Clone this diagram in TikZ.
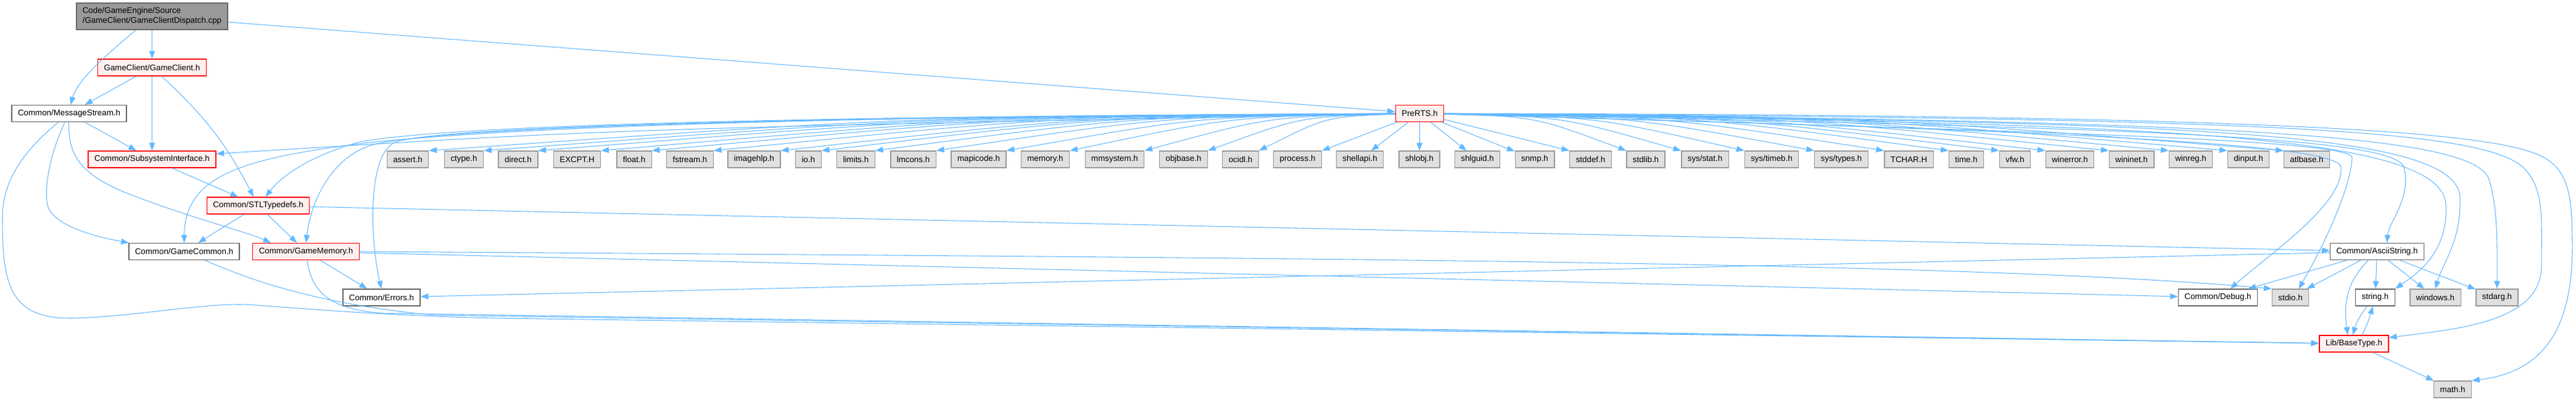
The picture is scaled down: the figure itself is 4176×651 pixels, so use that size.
\documentclass[tikz,border=0pt]{standalone}
\usepackage{fontspec}
\setmainfont{Liberation Sans}
\usetikzlibrary{arrows.meta}

\definecolor{incblue}{HTML}{63B8FF}
\definecolor{cppfill}{HTML}{999999}
\definecolor{cppdraw}{HTML}{666666}
\definecolor{projfill}{HTML}{FFF0F0}
\definecolor{sysfill}{HTML}{E0E0E0}
\definecolor{sysdraw}{HTML}{999999}

\begin{document}
\begin{tikzpicture}[->,>={Triangle[length=9.5pt,width=7pt]},x=0.75pt,y=0.75pt,
        file/.style={rectangle,minimum height=20.25pt,inner xsep=7.5pt,inner ysep=0pt,
                     line width=1pt,font=\fontsize{10}{12}\selectfont},
        top/.style={file,draw=cppdraw,fill=cppfill,align=left,minimum height=32.25pt},
        proj/.style={file,draw=red,fill=projfill},
        local/.style={file,draw=cppdraw,fill=white},
        sys/.style={file,draw=sysdraw,fill=sysfill},
        dep/.style={draw=incblue,line width=0.8pt},
        every edge/.style={dep}]

  \useasboundingbox (0,0) rectangle (4176,651);

  \node[top] (main) at (246.5,624.5) {Code/GameEngine/Source\\/GameClient/GameClientDispatch.cpp};
  \node[proj] (gc) at (246.5,541.5) {GameClient/GameClient.h};
  \node[local] (ms) at (112,467) {Common/MessageStream.h};
  \node[proj] (pre) at (2301.5,467) {PreRTS.h};
  \node[proj] (si) at (246.5,392.5) {Common/SubsystemInterface.h};

  \node[sys] (assert) at (661,392.5) {assert.h};
  \node[sys] (ctype) at (752,392.5) {ctype.h};
  \node[sys] (direct) at (840,392.5) {direct.h};
  \node[sys] (excpt) at (935.5,392.5) {EXCPT.H};
  \node[sys] (float) at (1028,392.5) {float.h};
  \node[sys] (fstream) at (1118.5,392.5) {fstream.h};
  \node[sys] (imagehlp) at (1222.5,392.5) {imagehlp.h};
  \node[sys] (io) at (1310.5,392.5) {io.h};
  \node[sys] (limits) at (1387.5,392.5) {limits.h};
  \node[sys] (lmcons) at (1480.5,392.5) {lmcons.h};
  \node[sys] (mapicode) at (1586.5,392.5) {mapicode.h};
  \node[sys] (memory) at (1694.5,392.5) {memory.h};
  \node[sys] (mmsystem) at (1807,392.5) {mmsystem.h};
  \node[sys] (objbase) at (1918.5,392.5) {objbase.h};
  \node[sys] (ocidl) at (2011,392.5) {ocidl.h};
  \node[sys] (process) at (2103.5,392.5) {process.h};
  \node[sys] (shellapi) at (2204.5,392.5) {shellapi.h};
  \node[sys] (shlobj) at (2301,392.5) {shlobj.h};
  \node[sys] (shlguid) at (2395,392.5) {shlguid.h};
  \node[sys] (snmp) at (2488,392.5) {snmp.h};
  \node[sys] (stddef) at (2578.5,392.5) {stddef.h};
  \node[sys] (stdlib) at (2668,392.5) {stdlib.h};
  \node[sys] (sysstat) at (2764,392.5) {sys/stat.h};
  \node[sys] (systimeb) at (2872,392.5) {sys/timeb.h};
  \node[sys] (systypes) at (2985,392.5) {sys/types.h};
  \node[sys] (tchar) at (3094.5,392.5) {TCHAR.H};
  \node[sys] (time) at (3187.5,392.5) {time.h};
  \node[sys] (vfw) at (3266.5,392.5) {vfw.h};
  \node[sys] (winerror) at (3355.5,392.5) {winerror.h};
  \node[sys] (wininet) at (3455.5,392.5) {wininet.h};
  \node[sys] (winreg) at (3551.5,392.5) {winreg.h};
  \node[sys] (dinput) at (3645,392.5) {dinput.h};
  \node[sys] (atlbase) at (3739.5,392.5) {atlbase.h};

  \node[proj] (stl) at (418.5,317.5) {Common/STLTypedefs.h};
  \node[local] (gcom) at (298.5,243) {Common/GameCommon.h};
  \node[proj] (gmem) at (496,243) {Common/GameMemory.h};
  \node[local] (ascii) at (3853.5,243) {Common/AsciiString.h};
  \node[local] (errors) at (618.5,168.5) {Common/Errors.h};
  \node[local] (debug) at (3595.5,168.5) {Common/Debug.h};
  \node[sys] (stdio) at (3713,168.5) {stdio.h};
  \node[local] (string) at (3850.5,168.5) {string.h};
  \node[sys] (windows) at (3948,168.5) {windows.h};
  \node[sys] (stdarg) at (4048,168.5) {stdarg.h};
  \node[proj] (base) at (3816,93.5) {Lib/BaseType.h};
  \node[sys] (math) at (3976,19.5) {math.h};

  % straight includes
  \path (main) edge (gc)
        (main) edge (pre)
        (gc) edge (ms)
        (gc) edge (si)
        (gc) edge [bend left=10] (stl)
        (ms) edge (si)
        (si) edge (stl)
        (stl) edge (gcom)
        (stl) edge (gmem)
        (stl) edge (ascii)
        (gmem) edge (errors)
        (gmem) edge (debug)
        (ascii) edge (errors)
        (ascii) edge (debug)
        (ascii) edge (stdio)
        (ascii) edge (string)
        (ascii) edge (windows)
        (ascii) edge (stdarg)
        (base) edge (math)
        ([xshift=-10pt]string.south) edge [bend right=10] ([xshift=-1.5pt]base.north)
        ([xshift=10pt]base.north) edge [bend right=5] ([xshift=-3pt]string.south);

  % PreRTS.h fan
  \path (pre) edge (process.north east)
        (pre) edge (shellapi)
        (pre) edge (shlobj)
        (pre) edge (shlguid)
        (pre) edge (snmp)
        (pre) edge (stddef.north west);
  \draw[dep] (pre) .. controls (1000,442) .. (si.5);
  \draw[dep] (pre) .. controls (1478,462) .. (assert.north east);
  \draw[dep] (pre) .. controls (1523,462) .. (ctype.north east);
  \draw[dep] (pre) .. controls (1567,462) .. (direct.north east);
  \draw[dep] (pre) .. controls (1618,462) .. (excpt.north east);
  \draw[dep] (pre) .. controls (1660,462) .. (float.north east);
  \draw[dep] (pre) .. controls (1710,462) .. (fstream.north east);
  \draw[dep] (pre) .. controls (1763,462) .. (imagehlp.north east);
  \draw[dep] (pre) .. controls (1797,462) .. (io.north east);
  \draw[dep] (pre) .. controls (1840,462) .. (limits.north east);
  \draw[dep] (pre) .. controls (1890,462) .. (lmcons.north east);
  \draw[dep] (pre) .. controls (1946,462) .. (mapicode.north east);
  \draw[dep] (pre) .. controls (1998,462) .. (memory.north east);
  \draw[dep] (pre) .. controls (2059,462) .. (mmsystem.north east);
  \draw[dep] (pre) .. controls (2110,462) .. (objbase.north east);
  \draw[dep] (pre) .. controls (2151,462) .. (ocidl.north east);
  \draw[dep] (pre) .. controls (2488,462) .. (stdlib.north west);
  \draw[dep] (pre) .. controls (2532,462) .. (sysstat.north west);
  \draw[dep] (pre) .. controls (2584,462) .. (systimeb.north west);
  \draw[dep] (pre) .. controls (2640,462) .. (systypes.north west);
  \draw[dep] (pre) .. controls (2697,462) .. (tchar.north west);
  \draw[dep] (pre) .. controls (2750,462) .. (time.north west);
  \draw[dep] (pre) .. controls (2790,462) .. (vfw.north west);
  \draw[dep] (pre) .. controls (2828,462) .. (winerror.north west);
  \draw[dep] (pre) .. controls (2880,462) .. (wininet.north west);
  \draw[dep] (pre) .. controls (2928,462) .. (winreg.north west);
  \draw[dep] (pre) .. controls (2976,462) .. (dinput.north west);
  \draw[dep] (pre) .. controls (3021,462) .. (atlbase.north west);

  % curved includes
  \draw[dep] (main) .. controls (170,560) and (125,520) .. (ms.80);
  \draw[dep] (ms) .. controls (80,400) and (70,340) .. (78,315)
                  .. controls (90,285) and (150,268) .. (gcom.171);
  \draw[dep] (ms) .. controls (110,400) and (130,370) .. (200,340)
                  .. controls (300,300) and (400,275) .. (gmem.166);
  \draw[dep] (ms) .. controls (30,400) and (4,350) .. (4,300)
                  .. controls (4,200) and (10,135) .. (112,135)
                  .. controls (200,135) and (330,160) .. (400,157)
                  .. controls (480,152) and (600,140) .. (800,135) -- (base);
  \draw[dep] (gcom) .. controls (400,200) and (500,160) .. (700,140) -- (base);
  \draw[dep] (gmem) .. controls (505,180) and (530,150) .. (620,143) -- (base);
  \draw[dep] (gmem.east) .. controls (2200,232) and (3200,226) .. (stdio.north west);
  \draw[dep] (ascii) .. controls (3800,190) and (3800,150) .. ([xshift=-7.5pt]base.north);

  \draw[dep] (pre) .. controls (1200,462) and (700,445) .. (580,420)
                   .. controls (510,400) and (460,370) .. (stl.50);
  \draw[dep] (pre) .. controls (1200,462) and (800,440) .. (600,420)
                   .. controls (400,395) and (300,370) .. (gcom.north);
  \draw[dep] (pre) .. controls (1300,462) and (700,445) .. (600,415)
                   .. controls (540,395) and (505,330) .. (gmem.north);
  \draw[dep] (pre) .. controls (1300,462) and (700,445) .. (640,420)
                   .. controls (595,400) and (600,260) .. (errors.north);
  \draw[dep] (pre) .. controls (3300,440) and (3790,420) .. (3795,380)
                   .. controls (3800,320) and (3680,240) .. ([xshift=15pt]debug.north);
  \draw[dep] (pre) .. controls (3300,438) and (3815,425) .. (3813,395)
                   .. controls (3810,340) and (3760,240) .. ([xshift=10pt]stdio.north);
  \draw[dep] (pre) .. controls (3400,445) and (3880,432) .. (3897,380)
                   .. controls (3910,330) and (3872,290) .. ([xshift=12pt]ascii.north);
  \draw[dep] (pre) .. controls (3450,450) and (3955,440) .. (3965,320)
                   .. controls (3970,240) and (3915,205) .. (string.north east);
  \draw[dep] (pre) .. controls (3500,452) and (3985,445) .. (3988,330)
                   .. controls (3990,260) and (3960,225) .. (windows.north);
  \draw[dep] (pre) .. controls (3600,455) and (4010,435) .. (4035,360)
                   .. controls (4050,310) and (4048,250) .. (stdarg.north);
  \draw[dep] (pre) .. controls (3700,460) and (4020,440) .. (4090,380)
                   .. controls (4125,345) and (4120,300) .. (4120,220)
                   .. controls (4120,130) and (3990,118) .. (base.10);
  \draw[dep] (pre) .. controls (3800,465) and (4060,432) .. (4125,395)
                   .. controls (4165,372) and (4170,330) .. (4170,250)
                   .. controls (4170,90) and (4100,45) .. (math.north east);

\end{tikzpicture}
\end{document}
